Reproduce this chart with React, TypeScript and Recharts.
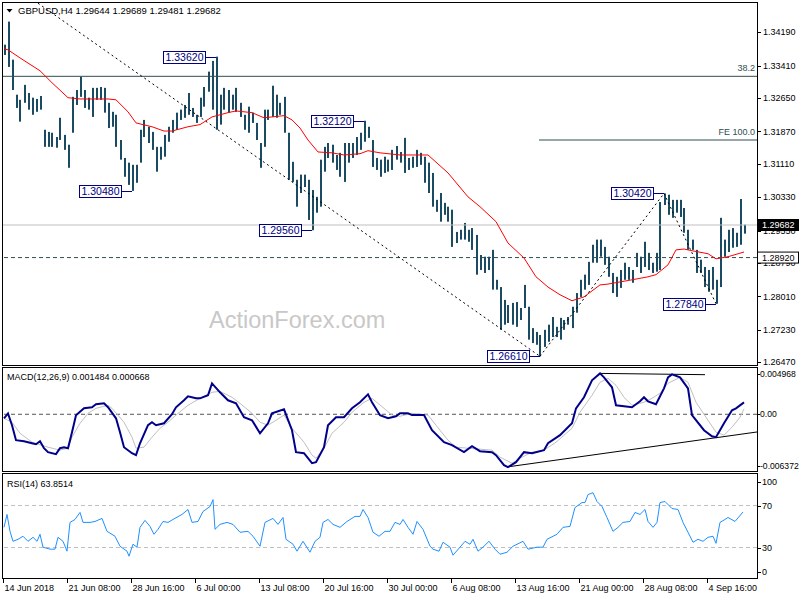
import React from 'react';
import { ComposedChart, Bar, Line, XAxis, YAxis, ReferenceLine, ReferenceDot } from 'recharts';

const FONT = '"Liberation Sans", Arial, sans-serif';
const BAR_COLOR = '#1b4b62';
const LEVEL_COLOR = '#2f4f4f';

// H4 bars, one entry per bar (high / low)
const highs = [
  1.3390, 1.3444, 1.3355, 1.3273, 1.3261, 1.3296, 1.3277, 1.3266, 1.3263, 1.3270,
  1.3191, 1.3186, 1.3184, 1.3174, 1.3219, 1.3179, 1.3156, 1.3268, 1.3284, 1.3315,
  1.3284, 1.3266, 1.3289, 1.3289, 1.3291, 1.3289, 1.3254, 1.3233, 1.3226, 1.3167,
  1.3125, 1.3114, 1.3109, 1.3109, 1.3191, 1.3214, 1.3198, 1.3186, 1.3151, 1.3151,
  1.3179, 1.3198, 1.3214, 1.3231, 1.3238, 1.3249, 1.3277, 1.3242, 1.3226, 1.3266,
  1.3291, 1.3327, 1.3352, 1.3362, 1.3273, 1.3289, 1.3284, 1.3273, 1.3289, 1.3254,
  1.3226, 1.3245, 1.3231, 1.3207, 1.3160, 1.3238, 1.3238, 1.3294, 1.3273, 1.3254,
  1.3268, 1.3184, 1.3116, 1.3074, 1.3086, 1.3086, 1.3074, 1.3050, 1.3034, 1.3121,
  1.3151, 1.3160, 1.3156, 1.3132, 1.3137, 1.3160, 1.3160, 1.3160, 1.3174, 1.3184,
  1.3212, 1.3198, 1.3167, 1.3125, 1.3121, 1.3128, 1.3121, 1.3144, 1.3153, 1.3139,
  1.3172, 1.3125, 1.3128, 1.3144, 1.3137, 1.3128, 1.3114, 1.3090, 1.3027, 1.3043,
  1.3020, 1.3011, 1.3004, 1.2952, 1.2957, 1.2973, 1.2957, 1.2961, 1.2945, 1.2898,
  1.2894, 1.2894, 1.2910, 1.2840, 1.2823, 1.2793, 1.2781, 1.2786, 1.2788, 1.2774,
  1.2828, 1.2777, 1.2727, 1.2718, 1.2711, 1.2723, 1.2735, 1.2753, 1.2730, 1.2751,
  1.2746, 1.2753, 1.2777, 1.2809, 1.2840, 1.2852, 1.2882, 1.2922, 1.2934, 1.2934,
  1.2917, 1.2894, 1.2856, 1.2847, 1.2863, 1.2880, 1.2870, 1.2863, 1.2903, 1.2894,
  1.2929, 1.2903, 1.2880, 1.2903, 1.3022, 1.3042, 1.3039, 1.3027, 1.3027, 1.3027,
  1.3008, 1.2957, 1.2934, 1.2910, 1.2887, 1.2870, 1.2863, 1.2870, 1.2840, 1.2985,
  1.2934, 1.2957, 1.2961, 1.2950, 1.3029, 1.2969,
];

const lows = [
  1.3366, 1.3338, 1.3284, 1.3242, 1.3210, 1.3254, 1.3238, 1.3226, 1.3233, 1.3238,
  1.3151, 1.3151, 1.3151, 1.3149, 1.3167, 1.3144, 1.3102, 1.3184, 1.3249, 1.3268,
  1.3242, 1.3238, 1.3221, 1.3261, 1.3261, 1.3231, 1.3195, 1.3198, 1.3151, 1.3121,
  1.3081, 1.3062, 1.3048, 1.3067, 1.3114, 1.3174, 1.3160, 1.3144, 1.3093, 1.3121,
  1.3128, 1.3163, 1.3184, 1.3191, 1.3214, 1.3219, 1.3226, 1.3221, 1.3207, 1.3221,
  1.3245, 1.3280, 1.3238, 1.3191, 1.3203, 1.3238, 1.3231, 1.3238, 1.3233, 1.3221,
  1.3191, 1.3184, 1.3207, 1.3167, 1.3102, 1.3151, 1.3214, 1.3221, 1.3219, 1.3226,
  1.3184, 1.3074, 1.3069, 1.3011, 1.3043, 1.3057, 1.2980, 1.2956, 1.2997, 1.3011,
  1.3093, 1.3125, 1.3114, 1.3097, 1.3081, 1.3069, 1.3114, 1.3125, 1.3132, 1.3144,
  1.3163, 1.3172, 1.3104, 1.3097, 1.3081, 1.3090, 1.3093, 1.3097, 1.3121, 1.3114,
  1.3090, 1.3097, 1.3102, 1.3104, 1.3109, 1.3067, 1.3043, 1.3011, 1.2999, 1.2976,
  1.2992, 1.2976, 1.2917, 1.2926, 1.2934, 1.2934, 1.2929, 1.2910, 1.2852, 1.2863,
  1.2856, 1.2863, 1.2817, 1.2817, 1.2723, 1.2735, 1.2739, 1.2735, 1.2730, 1.2746,
  1.2774, 1.2700, 1.2692, 1.2688, 1.2661, 1.2683, 1.2695, 1.2706, 1.2706, 1.2700,
  1.2723, 1.2735, 1.2727, 1.2763, 1.2800, 1.2817, 1.2828, 1.2880, 1.2880, 1.2894,
  1.2875, 1.2847, 1.2809, 1.2800, 1.2821, 1.2840, 1.2840, 1.2833, 1.2870, 1.2856,
  1.2870, 1.2863, 1.2856, 1.2859, 1.2863, 1.3015, 1.2992, 1.2985, 1.2997, 1.2987,
  1.2950, 1.2910, 1.2910, 1.2856, 1.2856, 1.2823, 1.2812, 1.2817, 1.2784, 1.2823,
  1.2894, 1.2905, 1.2915, 1.2917, 1.2922, 1.2948,
];

// moving average: [bar, price]
const maPoints = [
  [0, 1.3380], [1, 1.3378], [4, 1.3359], [9, 1.3329], [12, 1.3301], [16, 1.3266], [19, 1.3263],
  [26, 1.3263], [28, 1.3261], [31, 1.3233], [33, 1.3207], [37, 1.3198], [40, 1.3188], [42, 1.3188],
  [46, 1.3198], [49, 1.3203], [52, 1.3221], [56, 1.3231], [58, 1.3235], [62, 1.3231], [65, 1.3219],
  [67, 1.3221], [70, 1.3224], [72, 1.3214], [74, 1.3195], [76, 1.3167], [78.5, 1.3139], [82, 1.3137],
  [85, 1.3132], [89, 1.3135], [91, 1.3142], [94, 1.3137], [99, 1.3132], [106, 1.3132], [111, 1.3090],
  [116, 1.3034], [119, 1.3011], [123, 1.2976], [126, 1.2926], [130, 1.2891], [133, 1.2847],
  [136, 1.2823], [139, 1.2805], [142, 1.2791], [145, 1.2800], [149, 1.2828], [151, 1.2830],
  [157, 1.2840], [161, 1.2847], [163, 1.2852], [166, 1.2875], [168, 1.2910], [170, 1.2912],
  [172, 1.2908], [176, 1.2901], [178, 1.2889], [181, 1.2894], [185, 1.2905],
];

const macdPoints = [
  [0, -0.0005], [1, 0.0001], [2, -0.00136], [3, -0.00322], [5, -0.00335], [7, -0.0036], [8, -0.00372],
  [9, -0.00335], [10, -0.00422], [11, -0.00471], [13, -0.00496], [14, -0.00422], [15, -0.00409],
  [16, -0.00422], [17, -0.00223], [18, -0.00012], [20, 0.00074], [22, 0.00087], [23, 0.00124],
  [25, 0.00136], [26, 0.00087], [28, -0.0005], [29, -0.00223], [30, -0.00409], [32, -0.00484],
  [33, -0.00508], [34, -0.0036], [36, -0.00136], [37, -0.00099], [38, -0.00136], [40, -0.00112],
  [42, 0.0], [43, 0.00087], [45, 0.00174], [46, 0.00223], [48, 0.00198], [49, 0.00198], [51, 0.00236],
  [52, 0.00384], [54, 0.00273], [56, 0.00174], [58, 0.00136], [60, -0.00037], [62, -0.00074],
  [64, -0.00236], [66, -0.00112], [67, 0.00012], [70, 0.00062], [72, -0.00198], [73, -0.00471],
  [75, -0.00484], [77, -0.00608], [78, -0.00595], [80, -0.00409], [81, -0.00136], [83, -0.00037],
  [85, -0.00037], [87, 0.00074], [89, 0.00149], [91, 0.00248], [92, 0.00149], [94, -0.00012],
  [96, -0.0005], [98, -0.00025], [99, 0.00012], [101, 0.00012], [102, -0.0001], [105, -0.0001],
  [107, -0.00198], [110, -0.00347], [112, -0.00384], [115, -0.00471], [117, -0.00397], [119, -0.00459],
  [122, -0.00471], [123, -0.00508], [125, -0.00632], [126, -0.00657], [128, -0.00595], [130, -0.00471],
  [132, -0.00484], [135, -0.00446], [136, -0.0036], [139, -0.0026], [142, -0.00112], [143, 0.00074],
  [145, 0.00211], [147, 0.00422], [149, 0.00508], [150, 0.00459], [152, 0.00335], [153, 0.00112],
  [155, 0.00099], [157, 0.00087], [159, 0.00161], [160, 0.00211], [161, 0.00161], [163, 0.00124],
  [165, 0.00322], [166, 0.00459], [167, 0.00496], [169, 0.00459], [171, 0.00322], [172, -0.0001],
  [175, -0.00198], [177, -0.00273], [178, -0.00285], [180, -0.00112], [182, 0.0005], [183, 0.00074],
  [185, 0.00148],
];

const signalPoints = [
  [0, -0.0005], [2, -0.00099], [4, -0.00236], [7, -0.00347], [11, -0.00409], [14, -0.00446],
  [16, -0.00422], [17, -0.00285], [19, -0.00112], [21, 0.00012], [23, 0.00074], [26, 0.00112],
  [27, 0.00074], [30, -0.00099], [32, -0.00285], [33, -0.00422], [35, -0.00409], [37, -0.00285],
  [39, -0.00174], [41, -0.00099], [43, -0.0001], [46, 0.00112], [49, 0.00198], [52, 0.00273],
  [54, 0.00285], [57, 0.00211], [59, 0.00136], [62, 0.00012], [64, -0.00099], [66, -0.00136],
  [68, -0.00074], [70, -0.0001], [72, -0.00174], [75, -0.00347], [77, -0.00508], [78, -0.00546],
  [80, -0.00422], [82, -0.00236], [85, -0.00099], [87, 0.00025], [90, 0.00149], [92, 0.00198],
  [95, 0.00074], [97, -0.0001], [99, -0.00025], [102, 0.00012], [106, -0.0001], [108, -0.00136],
  [111, -0.00322], [113, -0.00409], [116, -0.00422], [119, -0.00434], [122, -0.00446], [124, -0.00533],
  [127, -0.00608], [129, -0.00546], [132, -0.00471], [135, -0.00446], [138, -0.00347], [142, -0.00174],
  [144, 0.00025], [147, 0.00236], [149, 0.00397], [151, 0.00446], [153, 0.0036], [155, 0.00211],
  [157, 0.00112], [160, 0.00149], [162, 0.00198], [164, 0.00261], [166, 0.00384], [169, 0.00459],
  [171, 0.00397], [173, 0.00149], [176, -0.00074], [178, -0.00223], [180, -0.0026], [182, -0.00161],
  [184, -0.00037], [185, 0.00067],
];

const rsiPoints = [
  [0, 49.2], [0.75, 61.5], [1.5, 45.4], [2.25, 35.9], [3.5, 37.8], [4.75, 40.7], [6, 35.9], [7.25, 39.7],
  [8.25, 35.9], [9, 42.6], [9.75, 30.3], [11.5, 28.4], [12.75, 28.4], [13.5, 39.7], [14.75, 35.9],
  [15.75, 26.5], [16.5, 53.9], [17.75, 56.7], [19, 63.4], [19.75, 53.9], [21.5, 53.9], [22.75, 54.8],
  [24.5, 57.7], [25.75, 45.4], [27.75, 40.7], [29, 31.2], [30.75, 26.5], [31.25, 21.7], [32.25, 33.1],
  [33.25, 30.3], [34, 49.2], [35.25, 55.8], [36.5, 50.1], [37.5, 42.6], [38.5, 47.3], [39.75, 54.8],
  [41, 53.9], [42.25, 56.7], [44.5, 61.5], [46, 66.2], [47, 53.9], [48.5, 54.8], [49.75, 64.3],
  [51.5, 69.0], [52.25, 75.6], [52.75, 47.3], [54, 52.0], [55.75, 53.9], [57.25, 52.0], [59, 44.5],
  [61, 45.4], [62.25, 40.7], [64, 31.2], [65.25, 53.9], [67.25, 57.7], [68.5, 52.0], [69.75, 58.6],
  [70.5, 37.8], [72.25, 33.1], [73.25, 26.5], [74.75, 35.9], [76.5, 25.5], [77.75, 35.9], [79, 39.7],
  [79.75, 53.9], [81, 56.7], [82.25, 52.0], [84, 49.2], [85.75, 54.8], [87.75, 59.6], [89, 59.6],
  [89.75, 66.2], [91, 58.6], [92.25, 44.5], [93.75, 40.7], [95.25, 45.4], [96.5, 45.4], [97.75, 53.9],
  [99, 52.0], [99.75, 56.7], [101, 49.2], [102.25, 42.6], [103.25, 54.8], [104.75, 47.3], [106.5, 31.2],
  [107.25, 28.4], [108.75, 26.5], [109.75, 35.0], [111.5, 30.3], [112.25, 22.7], [114, 30.3],
  [115.25, 35.9], [116.5, 33.1], [117.25, 37.8], [118.5, 26.5], [119.75, 30.3], [121.25, 35.9],
  [122.75, 28.4], [124, 23.6], [125.75, 25.5], [127.25, 31.2], [129.75, 35.9], [131, 28.4],
  [133.25, 30.3], [134.75, 30.3], [135.75, 37.8], [138.25, 42.6], [139.75, 49.2], [141.5, 50.1],
  [142.75, 68.1], [144.5, 72.8], [145.25, 72.8], [146, 80.4], [147.25, 82.2], [148.25, 73.8],
  [149.5, 69.0], [150.75, 58.6], [152.25, 45.4], [153.5, 49.2], [154.75, 53.9], [156.5, 54.8],
  [157.75, 63.4], [159, 61.5], [160.25, 66.2], [161, 54.8], [162.25, 49.2], [163.25, 53.9], [164, 72.8],
  [165.25, 73.8], [167, 67.1], [168.5, 66.2], [169.75, 53.9], [171, 44.5], [172.25, 35.0], [173.5, 37.8],
  [174.75, 35.9], [176, 39.7], [177.25, 40.7], [178, 34.0], [179, 53.9], [180.25, 56.7], [181, 58.6],
  [182.75, 54.8], [184.75, 63.85],
];

// swing highs / lows that carry a price tag: [bar, price]
const swingTags = [
  [53, 1.3362], [32, 1.3048], [90, 1.3212], [77, 1.2956], [134, 1.2661], [165, 1.3042], [178, 1.2784],
];

// dotted zigzag / trendlines: [bar, price]
const zigzag = [
  [[8.5, 1.3487], [134, 1.2661]],
  [[134, 1.2661], [165, 1.3042]],
  [[165, 1.3042], [178, 1.2784]],
];
const macdTrendlines = [
  [[149, 0.00508], [175.25, 0.00492]],
  [[125.75, -0.00655], [188.25, -0.0022]],
];

const priceTicks = [1.3419, 1.3341, 1.3265, 1.3187, 1.3111, 1.3033, 1.2955, 1.2879, 1.2801, 1.2723, 1.2647];
const lastPrice = 1.29682;
const supportLevel = 1.2892;
const fibLevel = 1.3316;
const feLevel = 1.3167;
const feStart = 133.75;

const dateTicks = [-0.25, 15.75, 31.75, 47.75, 63.75, 79.75, 95.75, 111.75, 127.75, 143.75, 159.75, 175.75];
const dateLabels = [
  '14 Jun 2018', '21 Jun 08:00', '28 Jun 16:00', '6 Jul 00:00', '13 Jul 08:00', '20 Jul 16:00',
  '30 Jul 00:00', '6 Aug 08:00', '13 Aug 16:00', '21 Aug 00:00', '28 Aug 08:00', '4 Sep 16:00',
];

const macdTicks = [0.004968, 0, -0.006372];
const rsiTicks = [100, 70, 30, 0];

const X_DOMAIN = [-0.25, 188.25];
const AXIS_X = 757;

const barData = highs.map((h, i) => ({ i, range: [lows[i], h] }));
const toXY = (pts: number[][]) => pts.map(([i, v]) => ({ i, v }));
const maData = toXY(maPoints);
const macdData = toXY(macdPoints);
const signalData = toXY(signalPoints);
const rsiData = toXY(rsiPoints);

const BarStick = (props: any) => {
  const { x, y, width, height } = props;
  if (x == null || y == null) return null;
  const cx = Math.round(x + width / 2);
  return <rect x={cx - 1} y={y} width={2} height={Math.max(height, 1)} fill={BAR_COLOR} />;
};

const PriceTick = (props: any) => {
  const { y, payload } = props;
  const v = payload.value;
  if (v === lastPrice) {
    return (
      <g>
        <rect x={AXIS_X + 1} y={y - 6} width={41} height={12} fill="#000" />
        <text x={AXIS_X + 5} y={y} dy="0.35em" fontSize={9} fontFamily={FONT} fill="#fff">{v.toFixed(5)}</text>
      </g>
    );
  }
  if (v === supportLevel) {
    return (
      <g>
        <rect x={AXIS_X + 0.5} y={y - 5.5} width={41} height={11} fill="#fff" stroke="#000" />
        <text x={AXIS_X + 5} y={y} dy="0.35em" fontSize={9} fontFamily={FONT} fill="#000">{v.toFixed(5)}</text>
      </g>
    );
  }
  return (
    <g>
      <line x1={AXIS_X} x2={AXIS_X + 4} y1={Math.round(y) + 0.5} y2={Math.round(y) + 0.5} stroke="#000" />
      <text x={AXIS_X + 6} y={y} dy="0.35em" fontSize={9} fontFamily={FONT} fill="#000">{v.toFixed(5)}</text>
    </g>
  );
};

const MacdTick = (props: any) => {
  const { y, payload } = props;
  const v = payload.value;
  const label = v === 0 ? '0.00' : v.toFixed(6);
  return (
    <g>
      <line x1={AXIS_X} x2={AXIS_X + 3} y1={Math.round(y) + 0.5} y2={Math.round(y) + 0.5} stroke="#000" />
      <text x={AXIS_X + 3} y={y} dy="0.35em" fontSize={8.6} fontFamily={FONT} fill="#000">{label}</text>
    </g>
  );
};

const RsiTick = (props: any) => {
  const { y, payload } = props;
  const v = payload.value;
  const ty = v === 100 ? y + 8 : v === 0 ? y - 7 : y;
  return (
    <g>
      <line x1={AXIS_X} x2={AXIS_X + 4} y1={Math.round(ty) + 0.5} y2={Math.round(ty) + 0.5} stroke="#000" />
      <text x={AXIS_X + 5} y={ty} dy="0.35em" fontSize={9} fontFamily={FONT} fill="#000">{v}</text>
    </g>
  );
};

const DateTick = (props: any) => {
  const { x, payload } = props;
  const idx = dateTicks.indexOf(payload.value);
  const px = Math.round(x) + 0.5;
  return (
    <g>
      <line x1={px} x2={px} y1={108} y2={112} stroke="#000" />
      <text x={px + 1} y={117} dy="0.35em" fontSize={9} fontFamily={FONT} fill="#000">{dateLabels[idx]}</text>
    </g>
  );
};

const SwingTag = (props: any) => {
  const { cx, cy, text } = props;
  if (cx == null || cy == null) return null;
  const px = Math.round(cx);
  const yc = Math.round(cy) + 0.5;
  const right = px - 11;
  const w = 42;
  const h = 12;
  return (
    <g>
      <line x1={right} x2={px} y1={yc} y2={yc} stroke="#000080" />
      <rect x={right - w + 0.5} y={yc - h / 2} width={w} height={h} fill="#fff" stroke="#000080" />
      <text x={right - w / 2 + 0.5} y={yc} dy="0.36em" textAnchor="middle" fontSize={10.5} fontFamily={FONT} fill="#000080">
        {text}
      </text>
    </g>
  );
};

const LevelText = (props: any) => {
  const { cy, text } = props;
  if (cy == null) return null;
  return (
    <text x={755} y={cy - 5} textAnchor="end" fontSize={9} fontFamily={FONT} fill={LEVEL_COLOR}>{text}</text>
  );
};

export default function App() {
  return (
    <div style={{ position: 'absolute', left: 0, top: 0, width: 800, height: 600, background: '#fff', overflow: 'hidden' }}>
      {/* price panel */}
      <div style={{ position: 'absolute', left: 0, top: 0 }}>
        <ComposedChart width={800} height={368} data={barData} margin={{ top: 3, right: 0, bottom: 3, left: 3 }}>
          <XAxis type="number" dataKey="i" domain={X_DOMAIN} allowDataOverflow hide />
          <YAxis
            orientation="right"
            width={43}
            domain={[1.26407, 1.34875]}
            allowDataOverflow
            ticks={[...priceTicks, supportLevel, lastPrice]}
            interval={0}
            axisLine={false}
            tickLine={false}
            tick={<PriceTick />}
          />
          <ReferenceLine y={fibLevel} stroke={LEVEL_COLOR} />
          <ReferenceLine segment={[{ x: feStart, y: feLevel }, { x: X_DOMAIN[1], y: feLevel }]} stroke={LEVEL_COLOR} />
          <ReferenceLine y={lastPrice} stroke="#c0c0c0" />
          <ReferenceLine y={supportLevel} stroke={LEVEL_COLOR} strokeDasharray="4 3" />
          {zigzag.map((seg, k) => (
            <ReferenceLine
              key={`zz-${k}`}
              segment={[{ x: seg[0][0], y: seg[0][1] }, { x: seg[1][0], y: seg[1][1] }]}
              stroke="#000"
              strokeDasharray="2 3"
            />
          ))}
          <Bar dataKey="range" barSize={1} shape={<BarStick />} isAnimationActive={false} />
          <Line data={maData} dataKey="v" type="linear" stroke="#ff0000" strokeWidth={1} dot={false} isAnimationActive={false} />
          <ReferenceDot x={188} y={fibLevel} r={0} shape={(p: any) => <LevelText {...p} text="38.2" />} />
          <ReferenceDot x={188} y={feLevel} r={0} shape={(p: any) => <LevelText {...p} text="FE 100.0" />} />
          {swingTags.map(([i, price]) => (
            <ReferenceDot
              key={`tag-${i}`}
              x={i}
              y={price}
              r={0}
              shape={(p: any) => <SwingTag {...p} text={price.toFixed(5)} />}
            />
          ))}
        </ComposedChart>
      </div>

      {/* MACD panel */}
      <div style={{ position: 'absolute', left: 0, top: 365 }}>
        <ComposedChart width={800} height={109} margin={{ top: 3, right: 0, bottom: 3, left: 3 }}>
          <XAxis type="number" dataKey="i" domain={X_DOMAIN} allowDataOverflow hide />
          <YAxis
            orientation="right"
            width={43}
            domain={[-0.00705, 0.00575]}
            allowDataOverflow
            ticks={macdTicks}
            interval={0}
            axisLine={false}
            tickLine={false}
            tick={<MacdTick />}
          />
          <ReferenceLine y={0} stroke="#555" strokeDasharray="4 3" />
          {macdTrendlines.map((seg, k) => (
            <ReferenceLine
              key={`mt-${k}`}
              segment={[{ x: seg[0][0], y: seg[0][1] }, { x: seg[1][0], y: seg[1][1] }]}
              stroke="#000"
            />
          ))}
          <Line data={signalData} dataKey="v" type="linear" stroke="#c0c0c0" strokeWidth={1} dot={false} isAnimationActive={false} />
          <Line data={macdData} dataKey="v" type="linear" stroke="#00008b" strokeWidth={2} dot={false} isAnimationActive={false} />
        </ComposedChart>
      </div>

      {/* RSI panel */}
      <div style={{ position: 'absolute', left: 0, top: 471 }}>
        <ComposedChart width={800} height={129} margin={{ top: 3, right: 0, bottom: 0, left: 3 }}>
          <XAxis
            type="number"
            dataKey="i"
            domain={X_DOMAIN}
            allowDataOverflow
            ticks={dateTicks}
            interval={0}
            height={21}
            axisLine={false}
            tickLine={false}
            tick={<DateTick />}
          />
          <YAxis
            orientation="right"
            width={43}
            domain={[0, 100]}
            allowDataOverflow
            ticks={rsiTicks}
            interval={0}
            axisLine={false}
            tickLine={false}
            tick={<RsiTick />}
          />
          <ReferenceLine y={70} stroke="#c0c0c0" strokeDasharray="4 3" />
          <ReferenceLine y={30} stroke="#c0c0c0" strokeDasharray="4 3" />
          <Line data={rsiData} dataKey="v" type="linear" stroke="#1e90ff" strokeWidth={1} dot={false} isAnimationActive={false} />
        </ComposedChart>
      </div>

      {/* frames and panel captions */}
      <svg width={800} height={600} style={{ position: 'absolute', left: 0, top: 0, pointerEvents: 'none' }}>
        <rect x={2.5} y={2.5} width={755} height={363} fill="none" stroke="#000" />
        <rect x={2.5} y={367.5} width={755} height={104} fill="none" stroke="#000" />
        <rect x={2.5} y={473.5} width={755} height={105} fill="none" stroke="#000" />
        <polygon points="6.5,9 12.5,9 9.5,12.5" fill="#000" />
        <text x={18} y={11} dy="0.35em" fontSize={9.5} fontFamily={FONT} fill="#000">
          GBPUSD,H4  1.29644 1.29689 1.29481 1.29682
        </text>
        <text x={209} y={328} fontSize={23.5} fontFamily={FONT} fill="#c8c8c8">ActionForex.com</text>
        <text x={7} y={377} dy="0.35em" fontSize={9} fontFamily={FONT} fill="#000">
          MACD(12,26,9) 0.001484 0.000668
        </text>
        <text x={7} y={484} dy="0.35em" fontSize={9} fontFamily={FONT} fill="#000">RSI(14) 63.8514</text>
      </svg>
    </div>
  );
}
